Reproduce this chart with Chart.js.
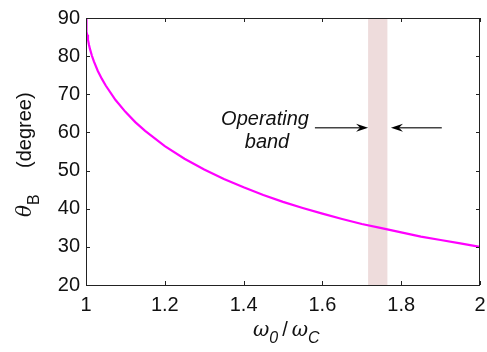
<!DOCTYPE html>
<html>
<head>
<meta charset="utf-8">
<script src="https://cdn.jsdelivr.net/npm/chart.js@4/dist/chart.umd.min.js"></script>
<style>
  html, body { margin: 0; padding: 0; background: #fff; }
  #wrap { width: 487px; height: 352px; }
</style>
</head>
<body>
<div id="wrap"><canvas id="chart" width="487" height="352"></canvas></div>
<script>
// ratio w0/wC and Brewster angle
const ratio = [1.0, 1.0005, 1.001, 1.002, 1.003, 1.005, 1.0075, 1.01, 1.015, 1.02, 1.03, 1.04, 1.05, 1.075, 1.1, 1.125,
  1.15, 1.2, 1.25, 1.3, 1.35, 1.4, 1.45, 1.5, 1.55, 1.6, 1.65, 1.7, 1.75, 1.8, 1.85, 1.9, 1.95, 2.0];
const thetaB = [90, 88.2, 87.4, 86.4, 85.6, 84.3, 83.0, 81.9, 80.1, 78.6, 76.1, 74.1, 72.3, 68.5, 65.4, 62.7,
  60.4, 56.4, 53.1, 50.3, 47.8, 45.6, 43.6, 41.8, 40.2, 38.7, 37.3, 36.0, 34.9, 33.8, 32.7, 31.8, 30.9, 30.0];
const xTicks = [1, 1.2, 1.4, 1.6, 1.8, 2];
const yTicks = [20, 30, 40, 50, 60, 70, 80, 90];
const band = [1.716, 1.765];
const arrowY = 61.2;
const leftArrow = [1.581, 1.716];
const rightArrow = [1.903, 1.774];

const FONT = '"Liberation Sans", Arial, sans-serif';

function arrow(ctx, x1, y1, x2, y2) {
  ctx.strokeStyle = '#444';
  ctx.lineWidth = 1.5;
  ctx.beginPath();
  ctx.moveTo(x1, y1);
  ctx.lineTo(x2 - Math.sign(x2 - x1) * 6, y2);
  ctx.stroke();
  const d = Math.sign(x2 - x1);
  ctx.fillStyle = '#000';
  ctx.beginPath();
  ctx.moveTo(x2, y2);
  ctx.lineTo(x2 - d * 12, y2 - 4);
  ctx.lineTo(x2 - d * 8, y2);
  ctx.lineTo(x2 - d * 12, y2 + 4);
  ctx.closePath();
  ctx.fill();
}

const decor = {
  id: 'decor',
  beforeDatasetsDraw(chart) {
    const { ctx, chartArea: a, scales: { x, y } } = chart;
    ctx.save();
    ctx.fillStyle = '#eedcdc';
    const bx1 = x.getPixelForValue(band[0]), bx2 = x.getPixelForValue(band[1]);
    ctx.fillRect(bx1, a.top, bx2 - bx1, a.bottom - a.top);
    ctx.restore();
  },
  afterDatasetsDraw(chart) {
    const { ctx, chartArea: a, scales: { x, y } } = chart;
    ctx.save();
    // frame and inward ticks
    ctx.strokeStyle = '#222';
    ctx.lineWidth = 1;
    ctx.strokeRect(Math.round(a.left) + 0.5, Math.round(a.top) + 0.5,
      Math.round(a.right - a.left) - 1, Math.round(a.bottom - a.top));
    ctx.beginPath();
    xTicks.forEach(v => {
      const px = Math.round(x.getPixelForValue(v)) + 0.5;
      ctx.moveTo(px, a.bottom); ctx.lineTo(px, a.bottom - 4);
      ctx.moveTo(px, a.top); ctx.lineTo(px, a.top + 4);
    });
    yTicks.forEach(v => {
      const py = Math.round(y.getPixelForValue(v)) + 0.5;
      ctx.moveTo(a.left, py); ctx.lineTo(a.left + 4, py);
      ctx.moveTo(a.right, py); ctx.lineTo(a.right - 4, py);
    });
    ctx.stroke();

    // operating band arrows
    const ay = y.getPixelForValue(arrowY);
    arrow(ctx, x.getPixelForValue(leftArrow[0]), ay, x.getPixelForValue(leftArrow[1]), ay);
    arrow(ctx, x.getPixelForValue(rightArrow[0]), ay, x.getPixelForValue(rightArrow[1]), ay);

    ctx.fillStyle = '#111';
    ctx.font = 'italic 20px ' + FONT;
    ctx.textAlign = 'center';
    ctx.textBaseline = 'alphabetic';
    ctx.fillText('Operating', 265, 125);
    ctx.fillText('band', 267, 148);

    // x axis title: w0 / wC
    ctx.textAlign = 'left';
    let cx = 253;
    const by = 336;
    ctx.font = 'italic 20px "DejaVu Serif", serif';
    ctx.fillText('ω', cx, by); cx += ctx.measureText('ω').width;
    ctx.font = 'italic 16px ' + FONT;
    ctx.fillText('0', cx, by + 7); cx += ctx.measureText('0').width + 4;
    ctx.font = '20px ' + FONT;
    ctx.fillText('/', cx, by); cx += ctx.measureText('/').width + 4;
    ctx.font = 'italic 20px "DejaVu Serif", serif';
    ctx.fillText('ω', cx, by); cx += ctx.measureText('ω').width;
    ctx.font = 'italic 16px ' + FONT;
    ctx.fillText('C', cx, by + 7);

    // y axis title: theta_B (degree)
    ctx.translate(31, 0);
    ctx.rotate(-Math.PI / 2);
    ctx.font = 'italic 20px "DejaVu Serif", serif';
    ctx.fillText('θ', -217, 0);
    ctx.font = '16px ' + FONT;
    ctx.fillText('B', -205, 8);
    ctx.font = '20px ' + FONT;
    ctx.fillText('(degree)', -168, 0);
    ctx.restore();
  }
};

new Chart(document.getElementById('chart'), {
  type: 'line',
  data: {
    datasets: [{
      data: ratio.map((r, i) => ({ x: r, y: thetaB[i] })),
      borderColor: '#ff00ff',
      borderWidth: 2.2,
      pointRadius: 0,
      tension: 0,
      fill: false
    }]
  },
  options: {
    responsive: false,
    animation: false,
    layout: { padding: { left: 0, right: 7, top: 18, bottom: 0 } },
    plugins: { legend: { display: false }, tooltip: { enabled: false } },
    scales: {
      x: {
        type: 'linear',
        min: 1, max: 2,
        afterBuildTicks: s => { s.ticks = xTicks.map(v => ({ value: v })); },
        afterFit: s => { s.height = 67; s.paddingLeft = 0; s.paddingRight = 0; },
        grid: { display: false, drawTicks: false },
        border: { display: false },
        ticks: {
          padding: 8,
          color: '#111',
          font: { family: FONT, size: 20 },
          callback: v => String(v)
        }
      },
      y: {
        min: 20, max: 90,
        afterBuildTicks: s => { s.ticks = yTicks.map(v => ({ value: v })); },
        afterFit: s => { s.width = 86; s.paddingTop = 0; s.paddingBottom = 0; },
        grid: { display: false, drawTicks: false },
        border: { display: false },
        ticks: {
          padding: 6,
          color: '#111',
          font: { family: FONT, size: 20 }
        }
      }
    }
  },
  plugins: [decor]
});
</script>
</body>
</html>
